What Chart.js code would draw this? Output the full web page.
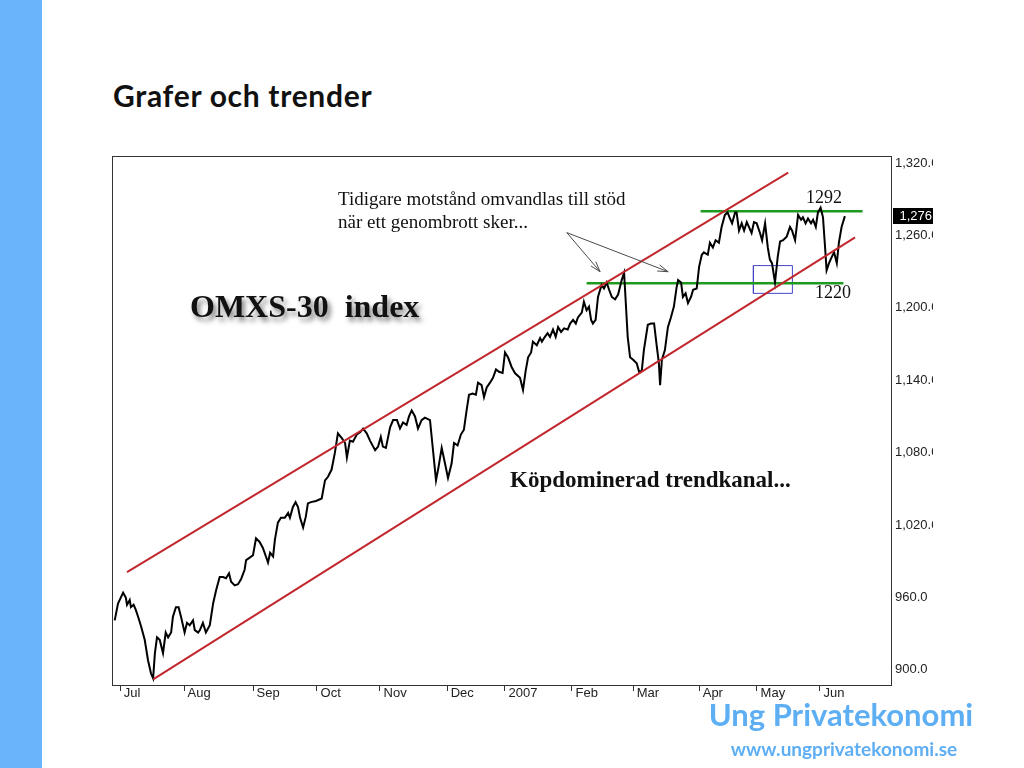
<!DOCTYPE html>
<html>
<head>
<meta charset="utf-8">
<script src="https://cdn.jsdelivr.net/npm/chart.js@4.4.1/dist/chart.umd.min.js"></script>
<style>
  html, body { margin:0; padding:0; background:#fff; }
  body { width:1024px; height:768px; position:relative; overflow:hidden; }
  #bar { position:absolute; left:0; top:0; width:42px; height:768px; background:#69B4FA; }
  .t { position:absolute; white-space:nowrap; z-index:5; }
  #title { left:113px; top:77px; font-family:Lato, "Open Sans", sans-serif; font-weight:700; font-size:30px; line-height:36px; letter-spacing:0.7px; color:#111; }
  #wrap { position:absolute; left:100px; top:140px; width:833px; height:575px; }
  .serif { font-family:"Liberation Serif", "DejaVu Serif", serif; color:#111; }
  #note { left:338px; top:187px; font-size:19px; line-height:23px; }
  #omx { left:190px; top:290px; font-size:32px; line-height:32px; font-weight:700; text-shadow:3px 4px 5px rgba(0,0,0,0.5); }
  #kop { left:510px; top:468px; font-size:23px; line-height:23px; font-weight:700; }
  #l1292 { left:806px; top:188px; font-size:18px; line-height:18px; }
  #l1220 { left:815px; top:283px; font-size:18px; line-height:18px; }
  #brand { left:691px; width:300px; text-align:center; top:696px; font-family:Lato, "Open Sans", sans-serif; font-weight:700; font-size:31px; line-height:37px; color:#5DAEF3; }
  #url { left:694px; width:300px; text-align:center; top:737px; font-family:Lato, "Open Sans", sans-serif; font-weight:700; font-size:19px; line-height:23px; color:#5DAEF3; }
</style>
</head>
<body>
<div id="bar"></div>
<div id="title" class="t">Grafer och trender</div>
<div id="wrap"><canvas id="c"></canvas></div>
<div id="note" class="t serif">Tidigare motstånd omvandlas till stöd<br>när ett genombrott sker...</div>
<div id="omx" class="t serif">OMXS-30&nbsp;&nbsp;index</div>
<div id="kop" class="t serif">Köpdominerad trendkanal...</div>
<div id="l1292" class="t serif">1292</div>
<div id="l1220" class="t serif">1220</div>
<div id="brand" class="t">Ung Privatekonomi</div>
<div id="url" class="t">www.ungprivatekonomi.se</div>
<script>
// Trading-day index (x) and OMXS-30 closing values
const days = [
  -0.1,1.0,2.7,3.6,4.0,4.9,5.3,6.2,6.9,7.7,
  8.7,9.9,11.0,12.0,12.7,13.3,14.0,14.9,16.0,16.9,
  17.7,18.7,19.3,20.3,21.2,22.0,23.2,24.0,24.9,26.0,
  26.6,27.7,28.3,29.3,30.3,31.6,32.7,33.7,34.9,36.0,
  37.0,38.0,38.7,39.9,41.0,42.0,43.2,43.7,44.9,46.0,
  47.0,48.2,49.3,50.3,51.0,51.7,52.7,53.3,54.3,55.3,
  56.6,57.7,58.3,59.3,60.2,61.0,61.7,62.7,63.6,64.3,65.3,
  67.0,
  68.9,70.0,71.0,72.2,73.3,74.3,75.6,76.7,77.3,
  78.3,79.3,80.6,81.7,82.7,83.9,85.0,86.7,87.7,88.6,
  89.3,90.3,91.7,92.7,94.0,95.0,96.0,97.2,98.0,98.9,
  100.0,101.0,102.2,103.3,105.0,106.0,107.0,107.7,108.9,110.0,
  111.0,112.2,113.0,114.2,115.3,116.3,117.2,118.0,119.2,120.3,
  121.0,122.2,123.0,123.9,125.0,126.0,127.0,128.0,129.2,130.0,
  131.0,132.2,133.3,135.0,136.0,136.9,137.7,138.7,139.3,140.6,
  141.7,142.3,143.3,144.2,145.0,146.0,146.9,147.7,148.7,149.7,
  150.9,151.7,152.7,153.6,154.3,155.6,156.3,157.2,158.0,158.7,
  159.3,160.2,161.0,162.2,163.0,163.9,164.7,165.6,166.7,167.7,
  168.9,169.7,170.2,170.9,171.7,172.7,173.9,174.7,175.6,176.3,
  177.6,178.7,179.7,180.6,181.3,181.7,182.3,183.3,184.3,185.3,
  186.3,187.2,187.7,188.7,189.3,190.2,191.0,192.0,192.7,193.9,
  194.7,195.6,196.3,197.6,198.3,199.3,200.2,201.3,202.2,203.3,
  204.2,205.0,205.7,206.7,207.2,208.0,208.9,209.7,210.6,211.3,
  212.2,213.0,213.9,215.0,215.7,216.7,217.6,218.3,219.0,220.0,
  220.9,221.7,222.7,223.9,225.0,225.7,226.7,227.7,228.7,229.3,
  230.2,231.0,232.0,232.7,233.6,234.3,235.2,236.0,236.7,237.2,
  238.0,238.9,239.7,240.6,241.3,242.2,243.3
];
const values = [
  941,955,964,960,954,958,952,954,950,944,
  936,925,908,897,893,914,927,925,914,931,
  927,931,944,952,952,944,931,939,937,941,
  933,931,933,939,931,937,955,966,977,977,
  976,980,973,970,971,975,983,991,993,995,
  1009,1006,1001,994,989,997,994,1008,1022,1026,
  1026,1030,1026,1035,1039,1035,1026,1018,1027,1038,1039,
  1040,
  1042,1057,1060,1066,1080,1096,1092,1088,1076,
  1090,1089,1095,1097,1100,1096,1090,1082,1085,1093,
  1085,1084,1101,1107,1107,1100,1105,1103,1110,1115,
  1110,1100,1107,1109,1107,1082,1057,1066,1084,1071,
  1059,1071,1088,1086,1095,1099,1115,1128,1129,1128,
  1138,1136,1126,1134,1138,1142,1149,1147,1146,1163,
  1159,1151,1146,1142,1132,1148,1159,1163,1172,1169,
  1175,1172,1176,1179,1176,1182,1176,1184,1180,1183,
  1182,1187,1190,1187,1192,1196,1205,1198,1201,1190,
  1187,1190,1209,1219,1216,1221,1215,1209,1207,1211,
  1223,1229,1207,1176,1159,1157,1154,1147,1148,1165,
  1186,1187,1187,1168,1154,1136,1157,1165,1184,1192,
  1201,1217,1223,1221,1209,1212,1204,1209,1215,1216,
  1234,1244,1246,1244,1254,1250,1256,1254,1267,1277,
  1279,1274,1270,1279,1279,1264,1270,1264,1271,1267,
  1262,1271,1270,1262,1256,1270,1250,1240,1237,1221,
  1242,1255,1256,1259,1267,1264,1256,1277,1273,1275,
  1270,1274,1270,1273,1267,1279,1283,1275,1250,1231,
  1237,1242,1246,1237,1254,1267,1276
];
// Axis ticks
const monthLabels = ['Jul','Aug','Sep','Oct','Nov','Dec','2007','Feb','Mar','Apr','May','Jun'];
const monthDays   = [1.7, 23, 46, 67.3, 88.3, 110.7, 130, 152.3, 172.7, 194.7, 214, 235];
const yTicks = [900, 960, 1020, 1080, 1140, 1200, 1260, 1320];
const xRange = [-0.67, 258.67];
const yRange = [887.5, 1325.8];
// Drawn trend annotations (day, value)
const channelUpper = [[4.0, 981], [224.4, 1312]];
const channelLower = [[12.7, 892.2], [246.7, 1258.4]];
const resistance = [[195.2, 1280], [249.2, 1280]];
const support = [[157.2, 1220.3], [242.8, 1220.3]];
const boxX = [212.8, 225.8];
const boxY = [1212, 1235];
const arrowFrom = [150.6, 1262.3];
const arrowTips = [[161.7, 1229.9], [184.4, 1229.9]];

const pts = a => a.map(p => ({x: p[0], y: p[1]}));
const price = days.slice(0, Math.min(days.length, values.length)).map((d, i) => ({x: d, y: values[i]}));
const boxPts = [[boxX[0], boxY[0]], [boxX[1], boxY[0]], [boxX[1], boxY[1]], [boxX[0], boxY[1]], [boxX[0], boxY[0]]];

const lineDs = (data, color, w) => ({data, borderColor: color, borderWidth: w, pointRadius: 0, fill: false, tension: 0});
const axisFont = {family: '"Liberation Sans", Arial, sans-serif', size: 13};

const extras = {
  id: 'extras',
  afterDatasetsDraw(chart) {
    const {ctx, scales: {x, y}} = chart;
    ctx.save();
    ctx.strokeStyle = '#4a4a4a';
    ctx.lineWidth = 1;
    const fx = x.getPixelForValue(arrowFrom[0]), fy = y.getPixelForValue(arrowFrom[1]);
    arrowTips.forEach(t => {
      const tx = x.getPixelForValue(t[0]), ty = y.getPixelForValue(t[1]);
      ctx.beginPath(); ctx.moveTo(fx, fy); ctx.lineTo(tx, ty); ctx.stroke();
      const ang = Math.atan2(ty - fy, tx - fx), L = 11, s = 0.3;
      ctx.beginPath();
      ctx.moveTo(tx - L * Math.cos(ang - s), ty - L * Math.sin(ang - s));
      ctx.lineTo(tx, ty);
      ctx.lineTo(tx - L * Math.cos(ang + s), ty - L * Math.sin(ang + s));
      ctx.stroke();
    });
    ctx.restore();
  },
  afterDraw(chart) {
    const {ctx, chartArea: a, scales: {y}} = chart;
    ctx.save();
    ctx.strokeStyle = '#333';
    ctx.lineWidth = 1;
    ctx.strokeRect(Math.round(a.left) - 0.5, Math.round(a.top) + 0.5, Math.round(a.right - a.left) + 1, Math.round(a.bottom - a.top));
    const last = values[values.length - 1];
    const py = Math.round(y.getPixelForValue(last));
    ctx.fillStyle = '#000';
    ctx.fillRect(a.right + 2, py - 8, chart.width - a.right - 2, 16);
    ctx.fillStyle = '#fff';
    ctx.font = '13px "Liberation Sans", Arial, sans-serif';
    ctx.textAlign = 'right';
    ctx.textBaseline = 'middle';
    ctx.fillText(last.toLocaleString('en-US'), chart.width - 1, py + 0.5);
    ctx.restore();
  }
};

new Chart(document.getElementById('c'), {
  type: 'line',
  data: {
    datasets: [
      lineDs(pts(channelUpper), '#C1272D', 2),
      lineDs(pts(channelLower), '#C1272D', 2),
      lineDs(price, '#000', 2),
      lineDs(pts(resistance), '#1F9A1F', 2.5),
      lineDs(pts(support), '#1F9A1F', 2.5),
      lineDs(pts(boxPts), '#4646C8', 1)
    ]
  },
  options: {
    responsive: true,
    maintainAspectRatio: false,
    animation: false,
    events: [],
    layout: {padding: {left: 13, top: 16, right: 0, bottom: 0}},
    plugins: {legend: {display: false}, tooltip: {enabled: false}},
    scales: {
      x: {
        type: 'linear', min: xRange[0], max: xRange[1],
        afterBuildTicks: s => { s.ticks = monthDays.map(v => ({value: v})); },
        afterFit: s => { s.height = 30; },
        ticks: {
          callback: (v, i) => ' ' + monthLabels[i],
          align: 'start', maxRotation: 0, autoSkip: false, padding: -5,
          color: '#222', font: axisFont
        },
        grid: {display: true, drawOnChartArea: false, drawTicks: true, tickLength: 6, color: '#333', lineWidth: 1},
        border: {display: true, color: '#333', width: 1}
      },
      y: {
        type: 'linear', position: 'right', min: yRange[0], max: yRange[1],
        afterBuildTicks: s => { s.ticks = yTicks.map(v => ({value: v})); },
        afterFit: s => { s.width = 42; },
        ticks: {
          callback: v => v.toLocaleString('en-US', {minimumFractionDigits: 1, maximumFractionDigits: 1}),
          crossAlign: 'near', padding: 4,
          color: '#222', font: axisFont
        },
        grid: {display: false, drawTicks: false},
        border: {display: true, color: '#333', width: 1}
      }
    }
  },
  plugins: [extras]
});
</script>
</body>
</html>
